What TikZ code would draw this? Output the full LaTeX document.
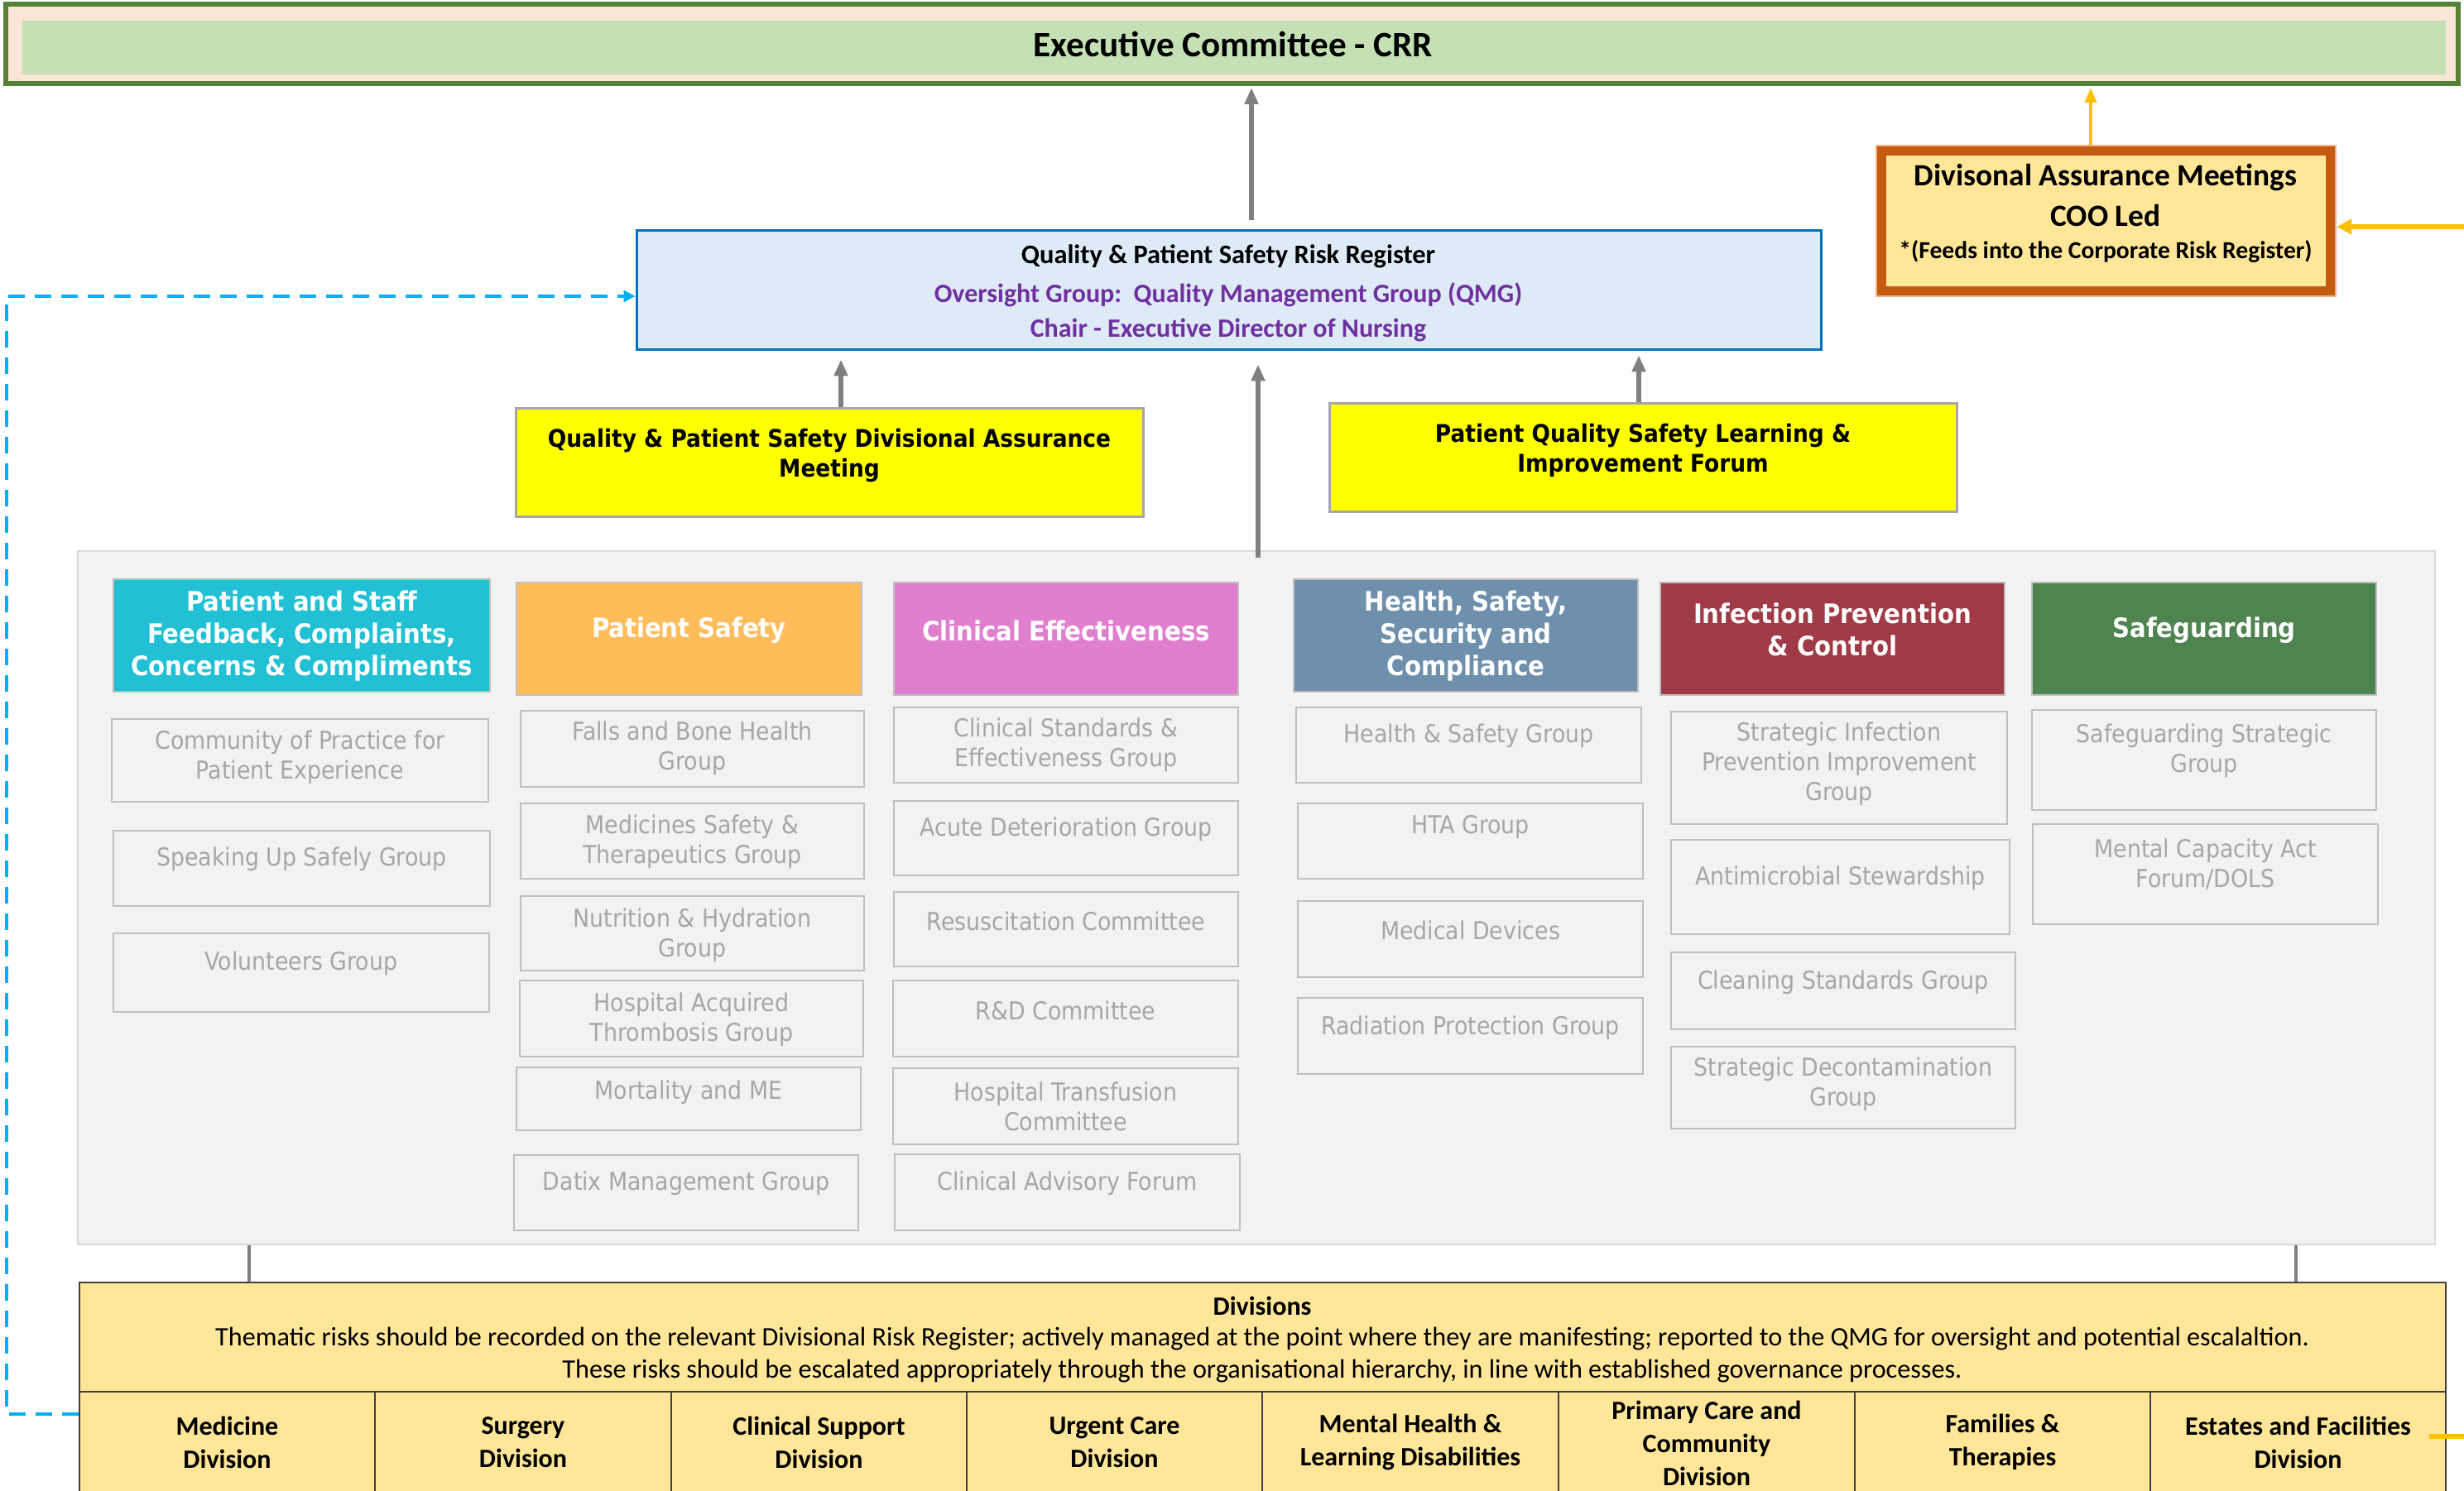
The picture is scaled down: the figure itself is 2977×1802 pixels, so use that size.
\documentclass[tikz,border=0pt]{standalone}
\usepackage{fontspec}
\setmainfont{Carlito}
\newfontfamily\tah{DejaVu Sans Condensed}
\usetikzlibrary{arrows.meta}
\definecolor{exgreen}{HTML}{548235}
\definecolor{exfill}{HTML}{FBE5D6}
\definecolor{exinner}{HTML}{C5E0B4}
\definecolor{daborder}{HTML}{C55A11}
\definecolor{dalight}{HTML}{F4B183}
\definecolor{dafill}{HTML}{FFE699}
\definecolor{qpsblue}{HTML}{0070C0}
\definecolor{qpsfill}{HTML}{DEEBF7}
\definecolor{purp}{HTML}{7030A0}
\definecolor{ylw}{HTML}{FFFF00}
\definecolor{ygrey}{HTML}{A6A6A6}
\definecolor{panelfill}{HTML}{F2F2F2}
\definecolor{panelline}{HTML}{D9D9D9}
\definecolor{subline}{HTML}{BFBFBF}
\definecolor{subtext}{HTML}{A6A6A6}
\definecolor{teal}{HTML}{22C0D4}
\definecolor{orangeh}{HTML}{FFBC5B}
\definecolor{pinkh}{HTML}{E07FCE}
\definecolor{blueh}{HTML}{6E90AD}
\definecolor{redh}{HTML}{A13A47}
\definecolor{greenh}{HTML}{4D844F}
\definecolor{arrowgrey}{HTML}{7F7F7F}
\definecolor{goldy}{HTML}{FFC000}
\definecolor{dashblue}{HTML}{00B0F0}
\definecolor{divline}{HTML}{404040}

\newcommand\bx[7]{\node[#2, minimum width={(#5-#3)*0.5pt}, minimum height={(#6-#4)*0.5pt}, inner sep=0pt] (#1) at ({(#3+#5)/2},{(#4+#6)/2}) {#7};}
\newcommand\subbox[7]{\bx{#1}{subbox}{#2}{#3}{#4}{#5}{}\node[subtxt] (#1-t) at ({(#2+#4)/2},#6) {#7};}
\newcommand\hdrbox[8]{\bx{#1}{hdrbox, fill=#2}{#3}{#4}{#5}{#6}{}\node[hdrtxt] (#1-t) at ({(#3+#5)/2},#7) {#8};}

\begin{document}
\begin{tikzpicture}[x=0.5pt,y=-0.5pt,
  subbox/.style={draw=subline, line width=1.3pt, fill=panelfill},
  subtxt/.style={font=\tah\fontsize{14.9}{18}\selectfont, text=subtext, align=center, inner sep=0pt},
  hdrbox/.style={draw=subline, line width=1.3pt},
  hdrtxt/.style={font=\tah\bfseries\fontsize{16.2}{19.5}\selectfont, text=white, align=center, inner sep=0pt},
  ybox/.style={draw=ygrey, line width=1.5pt, fill=ylw},
  ytxt/.style={font=\tah\bfseries\fontsize{14.7}{18}\selectfont, align=center, inner sep=0pt},
  garrow/.style={draw=arrowgrey, line width=2.6pt, -{Triangle[length=10pt,width=8pt]}},
  gline/.style={draw=arrowgrey, line width=2.4pt},
  yarrow/.style={draw=goldy, line width=2pt, -{Triangle[length=9pt,width=7pt]}},
  yarrowb/.style={draw=goldy, line width=3.2pt, -{Triangle[length=9pt,width=9pt]}},
  bdash/.style={draw=dashblue, line width=2pt, dash pattern=on 10pt off 6pt, -{Triangle[length=7pt,width=7pt]}},
  divtxt/.style={font=\bfseries\fontsize{16}{20}\selectfont, align=center, inner sep=0pt}
]
\useasboundingbox (0,0) rectangle (2977,1802);
\fill[white] (0,0) rectangle (2977,1802);

% Executive committee
\bx{exec}{draw=exgreen, line width=3pt, fill=exfill}{7}{5}{2970}{101}{}
\bx{execin}{fill=exinner}{27}{25}{2955}{90}{}
\node[font=\bfseries\fontsize{21.6}{26}\selectfont, inner sep=0pt] (exec-t) at (1490,53) {Executive Committee - CRR};

% Divisional assurance meetings
\bx{da}{draw=dalight, line width=1.2pt, fill=dafill}{2267}{176}{2822}{358}{}
\draw[daborder, line width=5.5pt] ([shift={(8,8)}]da.north west) rectangle ([shift={(-8,-8)}]da.south east);
\node[font=\bfseries\fontsize{18.7}{24.5}\selectfont, align=center, inner sep=0pt] (da-t) at (2544,236) {Divisonal Assurance Meetings\\COO Led};
\node[font=\bfseries\fontsize{14.8}{16}\selectfont, inner sep=0pt] (da-t2) at (2544,304) {*(Feeds into the Corporate Risk Register)};

% QPS risk register
\bx{qps}{draw=qpsblue, line width=1.5pt, fill=qpsfill}{769}{279}{2200}{423}{}
\node[font=\bfseries\fontsize{16.2}{22}\selectfont, inner sep=0pt] (qps-t1) at (1484,310) {Quality \& Patient Safety Risk Register};
\node[font=\bfseries\fontsize{16}{21}\selectfont, text=purp, align=center, inner sep=0pt] (qps-t2) at (1484,377) {Oversight Group:\ \ Quality Management Group (QMG)\\Chair - Executive Director of Nursing};

% Yellow boxes
\bx{qpsda}{ybox}{623}{494}{1381}{625}{}
\node[ytxt] (qpsda-t) at (1002,551) {Quality \& Patient Safety Divisional Assurance\\Meeting};
\bx{pqs}{ybox}{1606}{488}{2364}{619}{}
\node[ytxt] (pqs-t) at (1985,544) {Patient Quality Safety Learning \&\\Improvement Forum};

% Grey panel
\bx{panel}{draw=panelline, line width=1pt, fill=panelfill}{94}{666}{2942}{1504}{}

% Headers
\hdrbox{h1}{teal}{137}{700}{592}{836}{769}{Patient and Staff\\Feedback, Complaints,\\Concerns \& Compliments}
\hdrbox{h2}{orangeh}{624}{704}{1041}{840}{762}{Patient Safety}
\hdrbox{h3}{pinkh}{1080}{704}{1496}{840}{762}{Clinical Effectiveness}
\hdrbox{h4}{blueh}{1563}{700}{1979}{836}{769}{Health, Safety,\\Security and\\Compliance}
\hdrbox{h5}{redh}{2006}{704}{2422}{840}{761}{Infection Prevention\\\& Control}
\hdrbox{h6}{greenh}{2455}{704}{2871}{840}{762}{Safeguarding}

% Sub boxes
\subbox{c1a}{135}{869}{590}{969}{915}{Community of Practice for\\Patient Experience}
\subbox{c1b}{137}{1004}{592}{1095}{1038}{Speaking Up Safely Group}
\subbox{c1c}{137}{1128}{591}{1223}{1164}{Volunteers Group}

\subbox{c2a}{629}{859}{1044}{951}{904}{Falls and Bone Health\\Group}
\subbox{c2b}{629}{971}{1044}{1062}{1017}{Medicines Safety \&\\Therapeutics Group}
\subbox{c2c}{629}{1083}{1044}{1173}{1130}{Nutrition \& Hydration\\Group}
\subbox{c2d}{628}{1185}{1043}{1277}{1232}{Hospital Acquired\\Thrombosis Group}
\subbox{c2e}{624}{1290}{1040}{1366}{1320}{Mortality and ME}
\subbox{c2f}{621}{1396}{1037}{1487}{1430}{Datix Management Group}

\subbox{c3a}{1080}{855}{1496}{946}{900}{Clinical Standards \&\\Effectiveness Group}
\subbox{c3b}{1080}{968}{1496}{1058}{1002}{Acute Deterioration Group}
\subbox{c3c}{1080}{1078}{1496}{1168}{1113}{Resuscitation Committee}
\subbox{c3d}{1079}{1185}{1496}{1277}{1221}{R\&D Committee}
\subbox{c3e}{1079}{1291}{1496}{1383}{1337}{Hospital Transfusion\\Committee}
\subbox{c3f}{1081}{1395}{1498}{1487}{1430}{Clinical Advisory Forum}

\subbox{c4a}{1566}{855}{1983}{946}{889}{Health \& Safety Group}
\subbox{c4b}{1568}{971}{1985}{1062}{1000}{HTA Group}
\subbox{c4c}{1568}{1089}{1985}{1181}{1124}{Medical Devices}
\subbox{c4d}{1568}{1206}{1985}{1298}{1242}{Radiation Protection Group}

\subbox{c5a}{2019}{860}{2425}{996}{923}{Strategic Infection\\Prevention Improvement\\Group}
\subbox{c5b}{2019}{1015}{2428}{1129}{1061}{Antimicrobial Stewardship}
\subbox{c5c}{2019}{1151}{2435}{1244}{1187}{Cleaning Standards Group}
\subbox{c5d}{2019}{1265}{2435}{1364}{1310}{Strategic Decontamination\\Group}

\subbox{c6a}{2455}{858}{2871}{979}{907}{Safeguarding Strategic\\Group}
\subbox{c6b}{2456}{996}{2873}{1117}{1045}{Mental Capacity Act\\Forum/DOLS}

% Divisions
\bx{div}{draw=divline, line width=1pt, fill=dafill}{96}{1550}{2955}{1830}{}
\coordinate (sepl) at (96,1682);
\coordinate (sepr) at (2955,1682);
\draw[divline, line width=1.3pt] (sepl) -- (sepr);
\foreach \xx in {453,811,1168,1525,1883,2241,2598}{
  \draw[divline, line width=0.6pt] (\xx,1682) -- (\xx,1830);
}
\node[font=\bfseries\fontsize{16}{20}\selectfont, inner sep=0pt] (div-t1) at (1525,1578) {Divisions};
\node[font=\fontsize{16.1}{19.5}\selectfont, align=center, inner sep=0pt] (div-t2) at (1525,1638) {Thematic risks should be recorded on the relevant Divisional Risk Register; actively managed at the point where they are manifesting; reported to the QMG for oversight and potential escalaltion.\\These risks should be escalated appropriately through the organisational hierarchy, in line with established governance processes.};

\node[divtxt] (d1) at (274.5,1743) {Medicine\\Division};
\node[divtxt] (d2) at (632,1743) {Surgery\\Division};
\node[divtxt] (d3) at (989.5,1743) {Clinical Support\\Division};
\node[divtxt] (d4) at (1346.5,1743) {Urgent Care\\Division};
\node[divtxt] (d5) at (1704,1743) {Mental Health \&\\Learning Disabilities};
\node[divtxt] (d6) at (2062,1744) {Primary Care and\\Community\\Division};
\node[divtxt] (d7) at (2419.5,1743) {Families \&\\Therapies};
\node[divtxt] (d8) at (2776.5,1743) {Estates and Facilities\\Division};

% Connectors
\coordinate (ax1) at (1512,0);
\coordinate (ax2) at (1016,0);
\coordinate (ax3) at (1980,0);
\coordinate (ax4) at (1520,0);
\coordinate (ax5) at (2526,0);
\coordinate (lx1) at (301,0);
\coordinate (lx2) at (2774,0);
\draw[garrow, shorten <=5.5pt, shorten >=1pt] (qps.north -| ax1) -- (exec.south -| ax1);
\draw[garrow, shorten >=5pt] (qpsda.north -| ax2) -- (qps.south -| ax2);
\draw[garrow, shorten >=2.5pt] (pqs.north -| ax3) -- (qps.south -| ax3);
\draw[garrow, shorten <=-4.5pt, shorten >=8pt] (panel.north -| ax4) -- (qps.south -| ax4);
\draw[gline] (panel.south -| lx1) -- (div.north -| lx1);
\draw[gline] (panel.south -| lx2) -- (div.north -| lx2);

\draw[yarrow, shorten >=1pt] (da.north -| ax5) -- (exec.south -| ax5);
\coordinate (ystart) at (2935,1736);
\coordinate (ycorner) at (3010,1736);
\draw[yarrowb] (ystart) -- (ycorner) |- ([yshift=-3.5pt]da.east);

\coordinate (bstart) at (95,1709);
\coordinate (bcorner) at (8,1709);
\draw[bdash] (bstart) -- (bcorner) |- ([yshift=-3.5pt]qps.west);
\end{tikzpicture}
\end{document}
